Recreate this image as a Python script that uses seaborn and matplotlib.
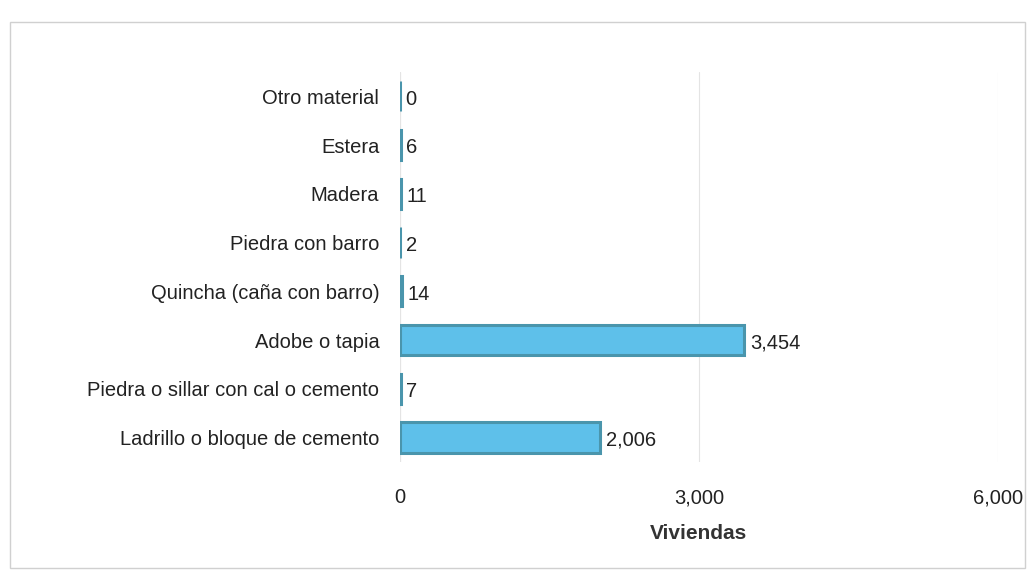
import matplotlib
matplotlib.use("Agg")
import matplotlib.pyplot as plt
import seaborn as sns
import pandas as pd
from matplotlib.patches import Rectangle
from matplotlib.ticker import FuncFormatter

categorias = ["Otro material", "Estera", "Madera", "Piedra con barro",
              "Quincha (caña con barro)", "Adobe o tapia",
              "Piedra o sillar con cal o cemento", "Ladrillo o bloque de cemento"]
viviendas = [0, 6, 11, 2, 14, 3454, 7, 2006]
ticks_x = [0, 3000, 6000]

sns.set_theme(style="white")
plt.rcParams['font.family'] = ['Liberation Sans', 'DejaVu Sans']

df = pd.DataFrame({"Material": categorias, "Viviendas": viviendas})

fig = plt.figure(figsize=(10.34, 5.71), dpi=100)
ax = fig.add_axes([0.387, 0.191, 0.578, 0.683])

sns.barplot(data=df, y="Material", x="Viviendas", orient="h", ax=ax,
            color="#5EC0EA", edgecolor="#4A95AC", linewidth=2.2, width=0.62,
            saturation=1)

for p, v in zip(ax.patches, viviendas):
    y = p.get_y() + p.get_height() / 2
    ax.annotate(f"{v:,}", xy=(p.get_width(), y), xytext=(4, -2),
                textcoords="offset points", ha="left", va="center",
                fontsize=14.5, color="#222222")

ax.set_xlim(0, 6000)
ax.set_ylim(7.5, -0.5)
ax.set_xticks(ticks_x)
ax.xaxis.set_major_formatter(FuncFormatter(lambda v, _: f"{int(v):,}"))
ax.tick_params(axis="x", labelsize=14.5, colors="#222222", pad=19, length=0)
ax.tick_params(axis="y", labelsize=14.5, colors="#222222", pad=15, length=0)
ax.set_ylabel("")
ax.set_xlabel("Viviendas", fontsize=15, fontweight="bold", color="#333333", labelpad=12)
ax.xaxis.grid(True, color="#E4E4E4", linewidth=0.8)
ax.set_axisbelow(True)
for s in ax.spines.values():
    s.set_visible(False)
ax.axvline(0, color="#E6E6E6", linewidth=0.8, zorder=0)

fig.patches.append(Rectangle((10 / 1034, 3 / 571), 1015 / 1034, 546 / 571,
                             transform=fig.transFigure, fill=False,
                             edgecolor="#D0D0D0", linewidth=1))

fig.savefig("out.png", dpi=100)
